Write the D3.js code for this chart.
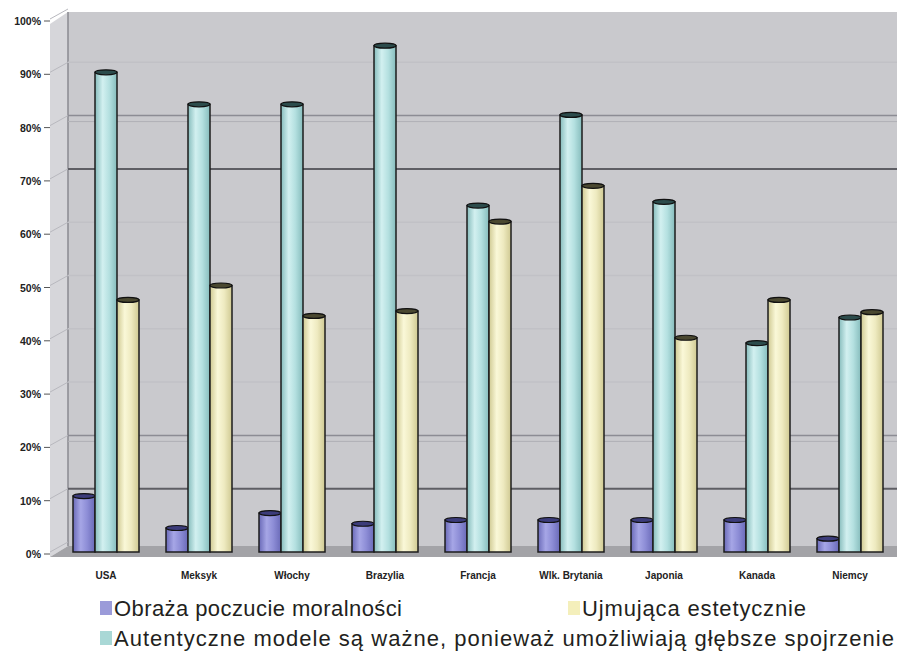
<!DOCTYPE html>
<html>
<head>
<meta charset="utf-8">
<script src="https://cdn.jsdelivr.net/npm/d3@7"></script>
<style>
  html, body { margin: 0; padding: 0; background: #ffffff; }
  svg { display: block; }
</style>
</head>
<body>
<svg id="chart" width="901" height="653"></svg>
<script>
// Categories along the horizontal axis
const categories = ["USA", "Meksyk", "Włochy", "Brazylia", "Francja", "Wlk. Brytania", "Japonia", "Kanada", "Niemcy"];

// Series names (legend)
const seriesNames = [
  "Obraża poczucie moralności",
  "Autentyczne modele są ważne, ponieważ umożliwiają głębsze spojrzenie",
  "Ujmująca estetycznie"
];

// Values in percent, one array per series, in category order
const obrazaValues      = [10.5, 4.5, 7.3, 5.3, 6, 6, 6, 6, 2.5];
const autentyczneValues = [90, 84, 84, 95, 65, 82, 65.7, 39.2, 44];
const ujmujacaValues    = [47.3, 50, 44.3, 45.2, 62, 68.7, 40.2, 47.3, 45];

// Value-axis tick values and labels
const tickValues = [0, 10, 20, 30, 40, 50, 60, 70, 80, 90, 100];
const tickLabels = ["0%", "10%", "20%", "30%", "40%", "50%", "60%", "70%", "80%", "90%", "100%"];

const seriesValues = [obrazaValues, autentyczneValues, ujmujacaValues];

const svg = d3.select("#chart");

// Scales
const x = d3.scaleBand().domain(categories).range([59.5, 896.5]).paddingInner(0).paddingOuter(0);
const groupWidth = 66;
const xInner = d3.scaleBand().domain(d3.range(seriesNames.length)).range([0, groupWidth]);
const y = d3.scaleLinear().domain([0, 100]).range([552, 19]);

const colors = [
  { light: "#a6a6e6", mid: "#8d8dd6", dark: "#6a6ab8", cap: "#3c3c7a", swatch: "#9b9bd9" },
  { light: "#d2f0f0", mid: "#b4e0e0", dark: "#86bcbc", cap: "#2c4c4c", swatch: "#a9d8d6" },
  { light: "#faf8d8", mid: "#eeeac0", dark: "#cfc992", cap: "#4a4830", swatch: "#f4efbb" }
];

const defs = svg.append("defs");
colors.forEach((c, i) => {
  const g = defs.append("linearGradient").attr("id", "cyl" + i)
    .attr("x1", "0%").attr("x2", "100%").attr("y1", "0%").attr("y2", "0%");
  g.append("stop").attr("offset", "0%").attr("stop-color", c.dark);
  g.append("stop").attr("offset", "35%").attr("stop-color", c.light);
  g.append("stop").attr("offset", "65%").attr("stop-color", c.mid);
  g.append("stop").attr("offset", "100%").attr("stop-color", c.dark);
});

// 3D plot frame: back wall, side wall and floor
const wallTop = 12, wallLeft = 68, wallRight = 897, floorBack = 546, floorFront = 557, sideLeft = 50;
svg.append("rect").attr("x", wallLeft).attr("y", wallTop)
  .attr("width", wallRight - wallLeft).attr("height", floorBack - wallTop)
  .attr("fill", "#c9c9cd");
svg.append("polygon")
  .attr("points", [[sideLeft, wallTop + 12], [wallLeft, wallTop], [wallLeft, floorBack], [sideLeft, floorFront]].join(" "))
  .attr("fill", "#d6d6da");
svg.append("polygon")
  .attr("points", [[sideLeft, floorFront], [wallLeft, floorBack], [wallRight, floorBack], [wallRight, floorFront]].join(" "))
  .attr("fill", "#a3a3a7");
svg.append("line").attr("x1", wallLeft).attr("x2", wallLeft).attr("y1", wallTop).attr("y2", floorBack)
  .attr("stroke", "#8a8a90").attr("stroke-width", 1.5);

// Gridlines on the back wall (shifted up by the depth of the plot)
const depthShift = 10;
const strongGrid = new Set([10, 70]);
const mediumGrid = new Set([20, 80]);
const gridG = svg.append("g");
gridG.selectAll("line.main")
  .data(tickValues.filter(v => v > 0 && v < 100))
  .join("line")
  .attr("class", "main")
  .attr("x1", wallLeft).attr("x2", wallRight)
  .attr("y1", d => y(d) - depthShift).attr("y2", d => y(d) - depthShift)
  .attr("stroke", d => strongGrid.has(d) ? "#5e5e64" : mediumGrid.has(d) ? "#8c8c94" : "#c1c1c6")
  .attr("stroke-width", d => strongGrid.has(d) ? 2 : 1.5);
// faint echo line just below the medium gridlines
gridG.selectAll("line.echo")
  .data(tickValues.filter(v => mediumGrid.has(v)))
  .join("line")
  .attr("class", "echo")
  .attr("x1", wallLeft).attr("x2", wallRight)
  .attr("y1", d => y(d) - depthShift + 6).attr("y2", d => y(d) - depthShift + 6)
  .attr("stroke", "#b0b0b6").attr("stroke-width", 1);
// side-wall gridline stubs
svg.append("g").selectAll("line")
  .data(tickValues)
  .join("line")
  .attr("x1", sideLeft).attr("x2", wallLeft)
  .attr("y1", d => y(d)).attr("y2", d => y(d) - depthShift)
  .attr("stroke", "#b8b8be").attr("stroke-width", 1);

// Value axis ticks and labels
const axisG = svg.append("g");
axisG.selectAll("line")
  .data(tickValues)
  .join("line")
  .attr("x1", 44).attr("x2", sideLeft)
  .attr("y1", d => y(d) + 2).attr("y2", d => y(d) + 2)
  .attr("stroke", "#555").attr("stroke-width", 1);
axisG.selectAll("text")
  .data(tickValues)
  .join("text")
  .attr("x", 41)
  .attr("y", d => y(d) + 6)
  .attr("text-anchor", "end")
  .attr("font-family", "Liberation Sans, Arial, sans-serif")
  .attr("font-size", 10.5)
  .attr("font-weight", "bold")
  .attr("fill", "#222")
  .text((d, i) => tickLabels[i]);

// Cylinder bars
const capRy = 2.5;
const barsG = svg.append("g");
categories.forEach((cat, ci) => {
  const gx = x(cat) + (x.bandwidth() - groupWidth) / 2;
  seriesValues.forEach((vals, si) => {
    const v = vals[ci];
    const bx = gx + xInner(si);
    const bw = xInner.bandwidth();
    const top = y(v);
    const bottom = y(0);
    barsG.append("rect")
      .attr("x", bx).attr("y", top)
      .attr("width", bw).attr("height", bottom - top)
      .attr("fill", `url(#cyl${si})`)
      .attr("stroke", "#1c1c1c").attr("stroke-width", 1.5);
    barsG.append("ellipse")
      .attr("cx", bx + bw / 2).attr("cy", top)
      .attr("rx", bw / 2).attr("ry", capRy)
      .attr("fill", colors[si].cap)
      .attr("stroke", "#111").attr("stroke-width", 1.2);
  });
});

// Category labels
svg.append("g").selectAll("text")
  .data(categories)
  .join("text")
  .attr("x", d => x(d) + x.bandwidth() / 2)
  .attr("y", 579)
  .attr("text-anchor", "middle")
  .attr("font-family", "Liberation Sans, Arial, sans-serif")
  .attr("font-size", 10)
  .attr("font-weight", "bold")
  .attr("fill", "#222")
  .text(d => d);

// Legend
const legendItems = [
  { idx: 0, x: 100, y: 608, len: 288 },
  { idx: 2, x: 568, y: 608, len: 224 },
  { idx: 1, x: 100, y: 638, len: 780 }
];
const legendG = svg.append("g");
legendItems.forEach(item => {
  legendG.append("rect")
    .attr("x", item.x).attr("y", item.y - 7)
    .attr("width", 12).attr("height", 14)
    .attr("fill", colors[item.idx].swatch);
  legendG.append("text")
    .attr("x", item.x + 14).attr("y", item.y + 8)
    .attr("font-family", "Liberation Sans, Arial, sans-serif")
    .attr("font-size", 22)
    .attr("textLength", item.len)
    .attr("lengthAdjust", "spacing")
    .attr("fill", "#231f20")
    .text(seriesNames[item.idx]);
});
</script>
</body>
</html>
